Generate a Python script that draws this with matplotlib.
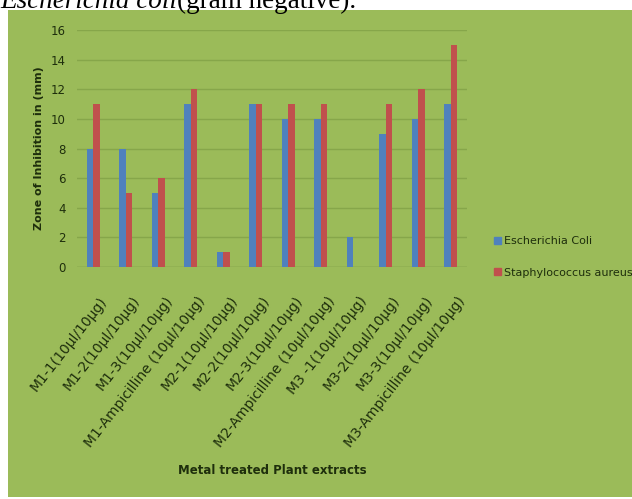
import numpy as np
import matplotlib.pyplot as plt
from matplotlib.patches import Rectangle, Patch
from matplotlib.transforms import ScaledTranslation

# zone of inhibition (mm) for each metal treated extract
samples = ["M1-1(10µl/10µg)", "M1-2(10µl/10µg)", "M1-3(10µl/10µg)",
           "M1-Ampicilline (10µl/10µg)", "M2-1(10µl/10µg)", "M2-2(10µl/10µg)",
           "M2-3(10µl/10µg)", "M2-Ampicilline (10µl/10µg)", "M3 -1(10µl/10µg)",
           "M3-2(10µl/10µg)", "M3-3(10µl/10µg)", "M3-Ampicilline (10µl/10µg)"]
e_coli = [8, 8, 5, 11, 1, 11, 10, 10, 2, 9, 10, 11]
s_aureus = [11, 5, 6, 12, 1, 11, 11, 11, 0, 11, 12, 15]
yticks = [0, 2, 4, 6, 8, 10, 12, 14, 16]

green = "#9bbb59"
grid_c = "#86a64a"
text_c = "#1e2e0c"
blue = "#4f81bd"
red = "#c0504d"

fig = plt.figure(figsize=(6.32, 4.99), dpi=100)
fig.patch.set_facecolor("white")

# green chart area, kept behind the axes
fig.patches.append(Rectangle((8/632, 2/499), 1, 487/499, transform=fig.transFigure,
                             facecolor=green, edgecolor="none", zorder=-5))

# caption line above the chart
base_y = 1 - 8/499
t1 = fig.text(0.0, base_y, "Escherichia coli", family="Liberation Serif",
              style="italic", fontsize=19.5, va="baseline", ha="left")
fig.canvas.draw()
bb = t1.get_window_extent()
fig.text(bb.x1 / fig.bbox.width, base_y, "(gram negative).", family="Liberation Serif",
         fontsize=19.5, va="baseline", ha="left")

ax = fig.add_axes([77/632, 1 - 267/499, 390/632, 237/499])
ax.set_facecolor("none")

x = np.arange(len(samples))
w = 0.2
ax.bar(x - w/2, e_coli, w, color=blue, label="Escherichia Coli", zorder=3)
ax.bar(x + w/2, s_aureus, w, color=red, label="Staphylococcus aureus", zorder=3)

ax.set_xlim(-0.5, len(samples) - 0.5)
ax.set_ylim(0, 16)
ax.set_yticks(yticks)
ax.grid(axis="y", color=grid_c, linewidth=1, zorder=1)
for s in ax.spines.values():
    s.set_visible(False)
ax.axhline(0, color=grid_c, linewidth=1, zorder=2)
ax.tick_params(length=0, colors=text_c, labelsize=8.5)
ax.tick_params(axis="y", pad=8)

ax.set_xticks(x)
ax.set_xticklabels(samples, rotation=52, ha="right", rotation_mode="anchor",
                   fontsize=10, color=text_c)
shift = ScaledTranslation(6/100, -22/100, fig.dpi_scale_trans)
for lbl in ax.get_xticklabels():
    lbl.set_transform(lbl.get_transform() + shift)

ax.set_ylabel("Zone of Inhibition in (mm)", fontsize=8, fontweight="bold",
              color=text_c, labelpad=5)
fig.text(272/632, 1 - 470/499, "Metal treated Plant extracts", fontsize=8.5,
         fontweight="bold", color=text_c, ha="center", va="center")

handles = [Patch(color=blue), Patch(color=red)]
fig.legend(handles, ["Escherichia Coli", "Staphylococcus aureus"],
           loc="center left", bbox_to_anchor=(484/632, 1 - 257/499),
           frameon=False, fontsize=8, handlelength=0.6, handleheight=0.6,
           handletextpad=0.3, labelspacing=1.9, labelcolor=text_c)

fig.savefig("out.png", dpi=100)
